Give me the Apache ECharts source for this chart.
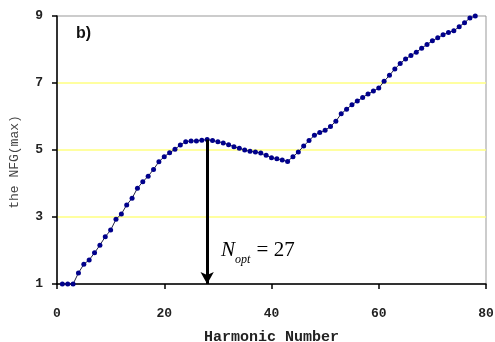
<!DOCTYPE html>
<html>
<head>
<meta charset="utf-8">
<script src="https://cdn.jsdelivr.net/npm/echarts@6/dist/echarts.min.js"></script>
<style>
html, body { margin: 0; padding: 0; background: #fff; }
#chart { width: 495px; height: 342px; }
</style>
</head>
<body>
<div id="chart"></div>
<script>
// harmonic number 1..78
var harmonics = [];
for (var i = 1; i <= 78; i++) harmonics.push(i);
var nfgMax = [1.0, 1.0, 1.0, 1.33, 1.59, 1.72, 1.93, 2.16, 2.41, 2.61,
	2.93, 3.09, 3.36, 3.56, 3.86, 4.05, 4.22, 4.42, 4.65, 4.80,
	4.92, 5.02, 5.15, 5.25, 5.27, 5.27, 5.29, 5.31, 5.28, 5.25,
	5.21, 5.16, 5.10, 5.05, 5.00, 4.96, 4.94, 4.91, 4.84, 4.77,
	4.74, 4.70, 4.66, 4.80, 4.94, 5.12, 5.28, 5.44, 5.52, 5.59,
	5.70, 5.86, 6.08, 6.22, 6.35, 6.46, 6.57, 6.67, 6.76, 6.85,
	7.05, 7.23, 7.42, 7.58, 7.72, 7.82, 7.92, 8.04, 8.15, 8.26,
	8.35, 8.44, 8.51, 8.56, 8.68, 8.80, 8.94, 9.0];
var xTicks = [0, 20, 40, 60, 80];
var yTicks = [1, 3, 5, 7, 9];
var nOpt = 28;
var optLabel = 27;

var points = harmonics.map(function(h, k) { return [h, nfgMax[k]]; });

var mono = 'Liberation Mono';
var myChart = echarts.init(document.getElementById('chart'));
var option = {
	animation : false,
	grid : {
		left : 57,
		right : 9,
		top : 16,
		bottom : 58,
		outerBoundsMode : 'none',
		containLabel : false,
		show : true,
		borderColor : '#999',
		borderWidth : 1
	},
	xAxis : {
		type : 'value',
		min : xTicks[0],
		max : xTicks[xTicks.length - 1],
		interval : 20,
		name : 'Harmonic Number',
		nameLocation : 'middle',
		nameGap : 46,
		nameTextStyle : { fontFamily : mono, fontWeight : 'bold', fontSize : 15, color : '#222' },
		axisLine : { lineStyle : { color : '#000', width : 1.5 } },
		axisTick : { length : 5, lineStyle : { color : '#000', width : 1.5 } },
		axisLabel : { margin : 23, fontFamily : mono, fontWeight : 'bold', fontSize : 13, color : '#222' },
		splitLine : { show : false }
	},
	yAxis : {
		type : 'value',
		min : yTicks[0],
		max : yTicks[yTicks.length - 1],
		interval : 2,
		axisLine : { show : true, lineStyle : { color : '#000', width : 1.5 } },
		axisTick : { show : true, length : 5, lineStyle : { color : '#000', width : 1.5 } },
		axisLabel : { margin : 14, fontFamily : mono, fontWeight : 'bold', fontSize : 13, color : '#222' },
		splitLine : {
			show : true,
			lineStyle : { color : ['transparent', '#ffff80', '#ffff80', '#ffff80', 'transparent'], width : 1.5 }
		}
	},
	graphic : [
		{
			type : 'text',
			left : 76,
			top : 26,
			style : { text : 'b)', font : 'bold 16px "Liberation Sans"', fill : '#111' }
		},
		{
			type : 'text',
			x : 15,
			y : 162,
			rotation : Math.PI / 2,
			style : {
				text : 'the NFG(max)',
				font : '13px "Liberation Mono"',
				fill : '#444',
				align : 'center',
				verticalAlign : 'middle'
			}
		},
		{
			type : 'text',
			left : 221,
			top : 240,
			style : {
				text : '{n|N}{s|opt}{e| = ' + optLabel + '}',
				rich : {
					n : { font : 'italic 21px "Liberation Serif"', fill : '#000', verticalAlign : 'bottom' },
					s : { font : 'italic 12px "Liberation Serif"', fill : '#000', verticalAlign : 'bottom', padding : [0, 1, -5, 0] },
					e : { font : '21px "Liberation Serif"', fill : '#000', verticalAlign : 'bottom' }
				}
			}
		}
	],
	series : [
		{
			name : 'NFG',
			type : 'line',
			data : points,
			symbol : 'circle',
			symbolSize : 5,
			itemStyle : { color : '#00008b' },
			lineStyle : { color : '#222244', width : 1 },
			z : 3,
			markLine : {
				silent : true,
				symbol : ['none', 'arrow'],
				symbolSize : [10, 12],
				label : { show : false },
				lineStyle : { color : '#000', width : 3, type : 'solid' },
				data : [
					[ { coord : [nOpt, nfgMax[nOpt - 1]] }, { coord : [nOpt, yTicks[0]] } ]
				]
			}
		}
	]
};
myChart.setOption(option);
</script>
</body>
</html>
